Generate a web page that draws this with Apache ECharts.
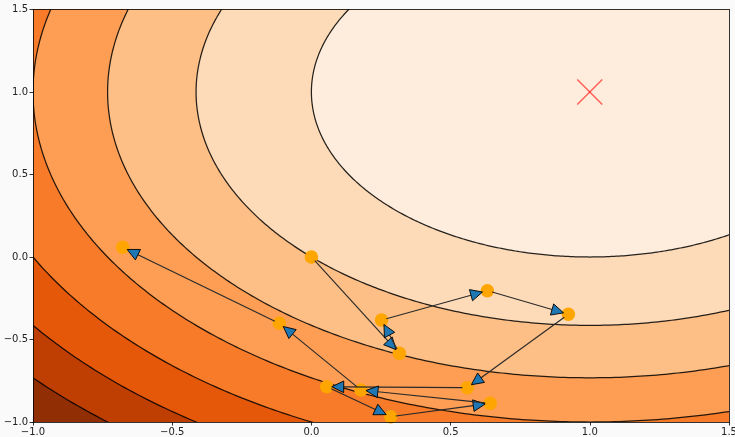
<!DOCTYPE html>
<html>
<head>
<meta charset="utf-8">
<script src="https://cdn.jsdelivr.net/npm/echarts/dist/echarts.min.js"></script>
<style>
html,body{margin:0;padding:0;background:#fafafa;}
#c{width:735px;height:437px;}
</style>
</head>
<body>
<div id="c"></div>
<script>
// ---- data ----
const xTicks = [-1.0, -0.5, 0.0, 0.5, 1.0, 1.5];
const yTicks = [-1.0, -0.5, 0.0, 0.5, 1.0, 1.5];
// contour levels of f(x,y) = (x-1)^2 + (y-1)^2
const contourLevels = [1, 2, 3, 4, 5, 6, 7];
const minimumPoint = [1, 1];
// filled band colours (Oranges), from lowest band [0,1] to highest [7,8]
const bandColors = ['#feeddc', '#fedbb8', '#fdbf86', '#fd9e54', '#f77b28', '#e5580a', '#bf3f02', '#922e03'];
// optimisation path
const pathX = [0.000, 0.316, 0.252, 0.632, 0.923, 0.560, 0.055, 0.285, 0.642, 0.178, -0.115, -0.678];
const pathY = [0.000, -0.584, -0.382, -0.204, -0.347, -0.792, -0.786, -0.968, -0.887, -0.806, -0.402, 0.059];

// ---- build ----
const fmt = v => (v < 0 ? '\u2212' : '') + Math.abs(v).toFixed(1);
const pathPoints = pathX.map((x, i) => [x, pathY[i]]);
const arrowData = [];
for (let i = 0; i < pathX.length - 1; i++) arrowData.push([pathX[i], pathY[i], pathX[i + 1], pathY[i + 1]]);
const contourData = contourLevels.slice().sort((a, b) => b - a).map(l => [l, contourLevels.indexOf(l)]);

function clipRect(params) {
  const cs = params.coordSys;
  return { type: 'rect', shape: { x: cs.x, y: cs.y, width: cs.width, height: cs.height } };
}

function renderContour(params, api) {
  const lvl = api.value(0);
  const idx = api.value(1);
  const r = Math.sqrt(lvl);
  const pts = [];
  for (let i = 0; i < 720; i++) {
    const t = i / 720 * 2 * Math.PI;
    pts.push(api.coord([minimumPoint[0] + r * Math.cos(t), minimumPoint[1] + r * Math.sin(t)]));
  }
  return {
    type: 'group',
    clipPath: clipRect(params),
    children: [{
      type: 'polygon',
      shape: { points: pts },
      style: { fill: bandColors[idx], stroke: 'rgba(0,0,0,0.85)', lineWidth: 1.25 }
    }]
  };
}

function renderArrow(params, api) {
  const p0 = api.coord([api.value(0), api.value(1)]);
  const p1 = api.coord([api.value(2), api.value(3)]);
  const dx = p1[0] - p0[0], dy = p1[1] - p0[1];
  const len = Math.hypot(dx, dy);
  const ux = dx / len, uy = dy / len;
  const nx = -uy, ny = ux;
  const shrinkA = 5, shrinkB = 5, headLen = 12, headHalf = 5.8;
  const start = [p0[0] + ux * shrinkA, p0[1] + uy * shrinkA];
  const tip = [p1[0] - ux * shrinkB, p1[1] - uy * shrinkB];
  const base = [tip[0] - ux * headLen, tip[1] - uy * headLen];
  return {
    type: 'group',
    children: [
      { type: 'line', shape: { x1: start[0], y1: start[1], x2: base[0], y2: base[1] },
        style: { stroke: '#2a2a2a', lineWidth: 1.15 } },
      { type: 'polygon', shape: { points: [tip, [base[0] + nx * headHalf, base[1] + ny * headHalf], [base[0] - nx * headHalf, base[1] - ny * headHalf]] },
        style: { fill: '#1f77b4', stroke: '#000', lineWidth: 0.9 } }
    ]
  };
}

function renderCross(params, api) {
  const c = api.coord([api.value(0), api.value(1)]);
  const s = 12.5;
  const st = { stroke: 'rgba(255,0,0,0.6)', lineWidth: 1.5 };
  return {
    type: 'group',
    children: [
      { type: 'line', shape: { x1: c[0] - s, y1: c[1] - s, x2: c[0] + s, y2: c[1] + s }, style: st },
      { type: 'line', shape: { x1: c[0] - s, y1: c[1] + s, x2: c[0] + s, y2: c[1] - s }, style: st }
    ]
  };
}

const axisCommon = {
  type: 'value', min: -1, max: 1.5, interval: 0.5,
  splitLine: { show: false },
  axisLine: { show: true, onZero: false, lineStyle: { color: '#000', width: 0.8 } },
  axisTick: { show: true, inside: false, length: 3.5, lineStyle: { color: '#000', width: 0.8 } },
  axisLabel: { show: true, formatter: fmt, fontFamily: 'DejaVu Sans', fontSize: 10, color: '#222', showMinLabel: true, showMaxLabel: true },
  z: 10
};
const frameAxis = {
  type: 'value', min: -1, max: 1.5, interval: 0.5,
  splitLine: { show: false },
  axisLine: { show: true, onZero: false, lineStyle: { color: '#000', width: 0.8 } },
  axisTick: { show: false }, axisLabel: { show: false },
  z: 10
};

const chart = echarts.init(document.getElementById('c'), null, { renderer: 'canvas' });
chart.setOption({
  backgroundColor: '#fafafa',
  animation: false,
  grid: { left: 33, top: 9.5, width: 696, height: 412.5, show: true, backgroundColor: bandColors[7], borderWidth: 0, containLabel: false, outerBoundsMode: 'none' },
  xAxis: [
    Object.assign({}, axisCommon, { position: 'bottom', axisLabel: Object.assign({}, axisCommon.axisLabel, { margin: 5 }) }),
    Object.assign({}, frameAxis, { position: 'top' })
  ],
  yAxis: [
    Object.assign({}, axisCommon, { position: 'left', axisLabel: Object.assign({}, axisCommon.axisLabel, { margin: 5 }) }),
    Object.assign({}, frameAxis, { position: 'right' })
  ],
  series: [
    { type: 'custom', name: 'contours', renderItem: renderContour, data: contourData, z: 1, silent: true },
    { type: 'custom', name: 'minimum', renderItem: renderCross, data: [minimumPoint], z: 3, silent: true },
    { type: 'scatter', name: 'path', data: pathPoints, symbol: 'circle', symbolSize: 13.5,
      itemStyle: { color: '#ffa500', opacity: 1 }, z: 4, silent: true },
    { type: 'custom', name: 'steps', renderItem: renderArrow, data: arrowData, z: 5, silent: true }
  ]
});
</script>
</body>
</html>
